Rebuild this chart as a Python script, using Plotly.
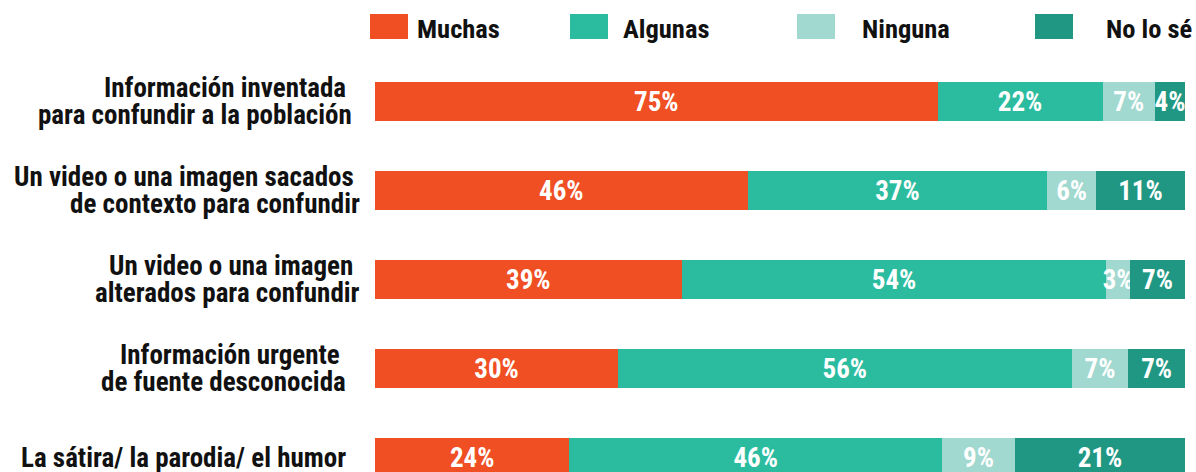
import plotly.graph_objects as go

categories = [
    "Información inventada <br>para confundir a la población",
    "Un video o una imagen sacados <br>de contexto para confundir",
    "Un video o una imagen <br>alterados para confundir",
    "Información urgente <br>de fuente desconocida",
    "La sátira/ la parodia/ el humor",
]
series_names = ["Muchas", "Algunas", "Ninguna", "No lo sé"]
muchas = [75, 46, 39, 30, 24]
algunas = [22, 37, 54, 56, 46]
ninguna = [7, 6, 3, 7, 9]
no_lo_se = [4, 11, 7, 7, 21]
colors = ["#F04E23", "#2BBC9F", "#A1D8CF", "#1F9783"]

FONT = "Roboto Condensed, Liberation Sans Narrow, DejaVu Sans Condensed, Arial Narrow, sans-serif"

# layout (pixels)
L, R, T, B = 375, 11, 57, 0
W = 1196 - L - R
H = 472 - T - B
label_right = [354, 362, 362, 348, 348]
leg_sw_x = [370, 570, 797, 1035]
leg_tx_x = [415, 621, 860, 1104]
LINE_GAP = 26.5

fig = go.Figure()
for name, vals, col in zip(series_names, [muchas, algunas, ninguna, no_lo_se], colors):
    fig.add_trace(go.Bar(
        y=categories, x=vals, name=name, orientation="h",
        marker=dict(color=col, line=dict(width=0)),
        text=vals, texttemplate="%{text}%", textposition="inside",
        insidetextanchor="middle", constraintext="none",
        textfont=dict(color="white", size=27, family=FONT, weight="bold"),
        width=0.44, showlegend=False, hoverinfo="skip",
    ))

# category labels, line by line
for cat, rx in zip(categories, label_right):
    lines = cat.split("<br>")
    n = len(lines)
    for k, line in enumerate(lines):
        fig.add_annotation(
            xref="paper", yref="y", x=(rx - L) / W, y=cat, text=line,
            showarrow=False, xanchor="right", yanchor="middle",
            yshift=((n - 1) / 2 - k) * LINE_GAP,
            font=dict(size=27, color="#111111", family=FONT, weight="bold"))

# custom legend
for name, col, sx, tx in zip(series_names, colors, leg_sw_x, leg_tx_x):
    fig.add_shape(type="rect", xref="paper", yref="paper",
                  x0=(sx - L) / W, x1=(sx + 38 - L) / W,
                  y0=(472 - 39) / H, y1=(472 - 14) / H,
                  fillcolor=col, line=dict(width=0))
    fig.add_annotation(xref="paper", yref="paper", x=(tx - L) / W,
                       y=(472 - 28.5) / H, text=name, showarrow=False,
                       xanchor="left", yanchor="middle",
                       font=dict(size=26.5, color="#111111", family=FONT, weight="bold"))

fig.update_layout(
    barmode="stack", barnorm="percent",
    width=1196, height=472,
    margin=dict(l=L, r=R, t=T, b=B),
    paper_bgcolor="white", plot_bgcolor="white",
    font=dict(family=FONT),
    xaxis=dict(range=[0, 100], visible=False, fixedrange=True, automargin=False),
    yaxis=dict(type="category", categoryorder="array", categoryarray=categories,
               range=[4.16, -0.5], showgrid=False, zeroline=False, showline=False,
               ticks="", showticklabels=False, automargin=False, fixedrange=True),
)
fig.write_html("out.html", config={"displayModeBar": False},
               post_script="document.body.style.margin='0px';")
